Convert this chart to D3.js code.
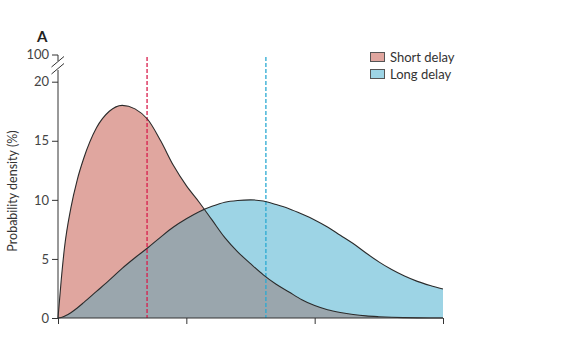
<!DOCTYPE html>
<html><head><meta charset="utf-8">
<script src="https://cdn.jsdelivr.net/npm/d3@7"></script>
<style>body{margin:0;background:#fff;} svg{display:block;font-family:Lato,"Open Sans",sans-serif;}</style>
</head><body><svg id="c" width="570" height="347"></svg>
<script>
const xs = [0,0.025,0.05,0.1,0.15,0.2,0.3,0.4,0.5,0.6,0.7,0.8,0.9,1.0,1.1,1.2,1.3,1.4,1.5,1.6,1.7,1.8,1.9,2.0,2.1,2.2,2.3,2.4,2.5,2.6,2.7,2.8,2.9,3.0];
const shortDelay = [0,3.2,5.9,9.3,11.7,13.5,16.1,17.5,18.0,17.7,16.8,15.0,12.9,11.2,9.8,8.3,6.8,5.6,4.6,3.65,2.85,2.2,1.55,1.05,0.7,0.47,0.3,0.18,0.11,0.06,0.03,0.01,0,0];
const longDelay = [0,0.04,0.14,0.45,0.85,1.3,2.25,3.2,4.2,5.1,5.95,6.85,7.7,8.4,9.0,9.45,9.8,9.95,10.0,9.9,9.6,9.25,8.8,8.3,7.7,7.0,6.3,5.5,4.75,4.1,3.55,3.1,2.75,2.45];
const medians = [0.694, 1.62];
const yTicks = [0,5,10,15,20];
const xTicks = [0,1,2,3];
const seriesNames = ["Short delay","Long delay"];
const colors = ["#e0a69f","#9dd4e5"];
const medianColors = ["#d81e4c","#2aa9d2"];

const svg = d3.select("#c");
const x = d3.scaleLinear().domain([0,3]).range([58,443]);
const y = d3.scaleLinear().domain([0,20]).range([318,81.7]);

const area = vals => d3.area().x((d,i)=>x(xs[i])).y0(y(0)).y1((d,i)=>y(vals[i])).curve(d3.curveMonotoneX)(vals);
const line = vals => d3.line().x((d,i)=>x(xs[i])).y((d,i)=>y(vals[i])).curve(d3.curveMonotoneX)(vals);

svg.append("defs").append("clipPath").attr("id","sclip").append("path").attr("d", area(shortDelay));

svg.append("path").attr("d", area(shortDelay)).attr("fill", colors[0]);
svg.append("path").attr("d", area(longDelay)).attr("fill", colors[1]);
svg.append("path").attr("d", area(longDelay)).attr("fill", "#9aa6ad").attr("clip-path","url(#sclip)");

medians.forEach((m,i)=>{
  svg.append("line").attr("x1",x(m)).attr("x2",x(m)).attr("y1",57).attr("y2",y(0))
    .attr("stroke",medianColors[i]).attr("stroke-width",1.3).attr("stroke-dasharray","4,2");
});

svg.append("path").attr("d", line(shortDelay)).attr("fill","none").attr("stroke","#2b2b2b").attr("stroke-width",1.1);
svg.append("path").attr("d", line(longDelay)).attr("fill","none").attr("stroke","#2b2b2b").attr("stroke-width",1.1);

const xa = svg.append("g").attr("transform",`translate(0,${y(0)})`)
  .call(d3.axisBottom(x).tickValues(xTicks).tickSize(6).tickFormat(""));
xa.select(".domain").attr("d",`M${x(0)},0H${x(3)}`).attr("stroke","#333");
xa.selectAll(".tick line").attr("stroke","#333");

const ya = svg.append("g").attr("transform",`translate(${x(0)},0)`)
  .call(d3.axisLeft(y).tickValues(yTicks).tickSize(6).tickPadding(3));
ya.attr("font-size",null).attr("font-family",null);
ya.select(".domain").attr("d",`M0,${y(0)}V70`).attr("stroke","#333");
ya.selectAll(".tick line").attr("stroke","#333");
ya.selectAll(".tick text").style("font-size","13px").attr("fill","#444");

const y100 = 55;
svg.append("path").attr("d",`M${x(0)-6},${y100}H${x(0)}V61`).attr("fill","none").attr("stroke","#333");
svg.append("path").attr("d",`M51.5,67L64,56.5M51.5,74L64,63.5`).attr("fill","none").attr("stroke","#333");
svg.append("text").attr("x",x(0)-9).attr("y",y100).attr("dy","0.32em").attr("text-anchor","end")
  .style("font-size","13px").attr("fill","#444").text("100");

svg.append("text").attr("transform","translate(17,191) rotate(-90)").attr("text-anchor","middle")
  .style("font-size","12.5px").attr("fill","#333").text("Probability density (%)");

svg.append("text").attr("x",37).attr("y",42).style("font-size","15px").attr("font-weight","bold").attr("fill","#222").text("A");

seriesNames.forEach((n,i)=>{
  const gy = 52.5 + i*17;
  svg.append("rect").attr("x",370.5).attr("y",gy).attr("width",14).attr("height",9)
    .attr("fill",colors[i]).attr("stroke","#555").attr("stroke-width",1);
  svg.append("text").attr("x",390).attr("y",gy+9.5).style("font-size","13px").attr("fill","#333").text(n);
});
</script></body></html>
